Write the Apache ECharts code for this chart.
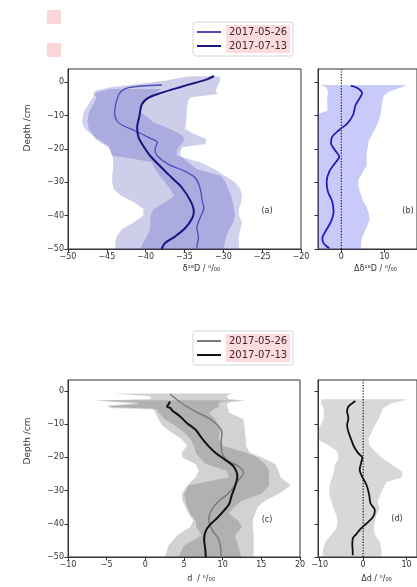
<!DOCTYPE html>
<html><head><meta charset="utf-8">
<script src="https://cdn.jsdelivr.net/npm/echarts@6/dist/echarts.min.js"></script>
<style>html,body{margin:0;padding:0;background:#fff}#c{width:417px;height:587px}</style>
</head><body><div id="c"></div>
<script>
// ---------- tick values ----------
const depthTicks = [-50, -40, -30, -20, -10, 0];
const xTicksA = [-50, -45, -40, -35, -30, -25, -20];
const xTicksB = [0, 10];
const xTicksC = [-10, -5, 0, 5, 10, 15, 20];
const xTicksD = [-10, 0, 10];
const zeroRef = [-50, 4];

// ---------- panel (a) delta18D profiles ----------
const aDepth0526 = [-0.8, -1.6, -3.1, -6.1, -9.1, -11.6, -13.1, -14.6, -16.6, -18.1, -20.1, -22.1, -24.7, -26.7, -28.7, -31.7, -35.7, -37.7, -40.7, -43.7, -46.7, -49.2, -50];
const aMean0526  = [-37.9, -42.2, -43.3, -43.8, -44.0, -43.7, -42.8, -41.3, -39.6, -38.5, -38.8, -38.5, -37.0, -34.9, -33.6, -33.0, -32.7, -32.5, -33.0, -33.4, -33.2, -33.4, -33.4];
const aDepth0713 = [1.9, 0.9, -0.1, -1.6, -3.1, -4.6, -6.6, -10.1, -13.6, -16.6, -19.1, -22.1, -25.7, -28.7, -31.7, -35.7, -38.7, -40.7, -43.7, -46.2, -48.2, -49.7, -50];
const aMean0713  = [-31.2, -32.1, -33.6, -35.8, -37.9, -39.6, -40.5, -40.8, -41.1, -40.9, -40.3, -39.4, -37.9, -36.6, -35.3, -34.2, -33.8, -34.0, -34.9, -36.2, -37.5, -37.9, -38.0];
// spread bands
const aBandDepth0526 = [-2, -3, -4.5, -6, -9, -12, -14, -16, -17.5, -19, -20.5, -22, -23, -24, -26, -28, -30, -32, -34, -36, -38, -40, -42, -44, -46, -48, -50];
const aBandLow0526   = [-44.5, -46.3, -46.8, -47.2, -48, -48.2, -47.8, -46.8, -45.8, -44.8, -44.5, -44.3, -41.5, -39.2, -38.8, -38.2, -37.5, -36.9, -36.3, -37.5, -39, -39.4, -39.4, -39.4, -39.8, -40.3, -40.7];
const aBandHigh0526  = [-38, -38.5, -39.3, -40.2, -40.6, -39, -36.8, -35.2, -35, -35.6, -36, -36, -34.5, -33, -31.2, -29.8, -28.5, -27.8, -27.6, -27.7, -28, -28, -27.6, -27.8, -28, -28, -28];
const aBandDepth0713 = [1.8, 0.5, -0.5, -1.5, -2.5, -3.5, -4.5, -6, -9, -12, -14, -15.5, -17, -18.5, -19.5, -21, -22, -23, -24, -26, -28, -30, -32, -34, -36, -38, -40, -42, -44, -46, -48, -50];
const aBandLow0713   = [-34.5, -37.5, -41, -44.5, -46.5, -46.8, -46.3, -46.6, -47.3, -47.5, -47.3, -46.8, -46.5, -45.5, -44.8, -44.5, -44.3, -44.2, -44.2, -44.2, -44.3, -44.3, -44.1, -43.2, -41.5, -40.3, -40.3, -41.5, -43, -43.7, -43.9, -43.9];
const aBandHigh0713  = [-30.5, -30.4, -30.6, -30.8, -31, -30.7, -34.2, -34.6, -34.7, -34.8, -34.9, -33.8, -32.2, -32.3, -35.3, -35.6, -35.5, -35, -34.5, -33.5, -30.3, -29.7, -29.4, -29, -28.8, -28.6, -28.5, -28.7, -29.2, -29.6, -29.8, -30];

// ---------- panel (b) difference of delta18D ----------
const bDepth = [-1, -1.8, -3.3, -4.8, -6.8, -9.8, -12.3, -14.3, -16.3, -18.3, -20.3, -22.3, -24.3, -26.8, -29.8, -32.8, -35.8, -38.8, -41.8, -44.8, -46.8, -48.3, -49.8];
const bDiff  = [2.2, 3.8, 4.8, 4.2, 3.3, 2.7, 1.4, -0.5, -2.1, -2.4, -1.5, -0.5, -1.5, -2.8, -3.4, -3.1, -2.1, -1.8, -2.4, -3.7, -4.4, -4.1, -2.8];
const bBandDepth = [-0.8, -1.5, -2.8, -4, -6, -8.5, -10, -12, -14.3, -17.3, -20, -22.3, -24.8, -27.3, -29.3, -31.5, -33.3, -35.5, -37.3, -39.5, -41.3, -43, -45.3, -47.5, -50];
const bBandLow   = [-4.8, -3.5, -3.1, -3.2, -3.3, -3.2, -6.5, -9, -10, -10.5, -9, -8, -9, -10.5, -11, -10.5, -9.5, -9, -9.5, -10.5, -11, -12, -12.5, -12, -11];
const bBandHigh  = [15, 14, 11, 9.8, 9.4, 9.2, 9.0, 8.5, 7.7, 6.4, 6.0, 5.8, 5.9, 4.8, 3.9, 4.0, 4.4, 5.0, 5.8, 6.4, 6.5, 6.0, 5.2, 4.6, 4.5];

// ---------- panel (c) deuterium excess profiles ----------
const cDepth0526 = [-0.9, -3.7, -6.2, -8.2, -10.7, -12.7, -15.7, -19.2, -21.2, -22.7, -24.7, -26.7, -30.7, -33.2, -35.7, -38.7, -41.7, -44.7, -49.2, -50];
const cMean0526  = [3.2, 4.7, 6.5, 8.2, 9.5, 9.9, 9.8, 10.0, 10.8, 12.1, 12.7, 12.1, 10.8, 9.5, 8.6, 8.2, 8.6, 9.5, 9.8, 9.8];
const cDepth0713 = [-3.2, -4.0, -4.7, -5.2, -5.7, -7.7, -9.7, -11.7, -14.2, -16.7, -18.7, -20.7, -22.7, -25.7, -28.7, -31.2, -34.2, -36.7, -38.7, -40.2, -42.2, -44.7, -46.7, -49.2, -50];
const cMean0713  = [3.2, 3.0, 2.8, 3.3, 3.4, 4.5, 5.4, 6.5, 7.3, 8.2, 9.1, 10.3, 11.4, 11.9, 11.6, 11.2, 10.8, 9.9, 9.1, 8.4, 7.8, 7.6, 7.7, 7.8, 7.8];
const cBandDepth0526 = [-0.8, -1.6, -2.4, -2.9, -3.4, -4.0, -4.6, -5.1, -5.6, -6.5, -8.5, -10.5, -12.5, -14.5, -16.5, -18.5, -20, -22, -24, -26, -28.5, -31, -33, -35, -37, -39, -41, -43.5, -46.5, -50];
const cBandLow0526   = [-4.1, 0.5, 0.8, -6.0, -1.0, -1.0, -4.5, -4.5, 1.5, 1.7, 2.5, 3.9, 5.0, 5.8, 6.3, 6.5, 7.0, 7.8, 10.5, 10.8, 5.6, 5.0, 5.2, 5.4, 5.8, 6.5, 6.6, 7.3, 5.0, 4.3];
const cBandHigh0526  = [11.2, 10.5, 10.8, 12.9, 11, 10.5, 10.6, 10.6, 10.8, 10.8, 12.7, 12.8, 12.9, 13.0, 13.0, 13.5, 15.1, 16.8, 17.2, 17.5, 18.8, 17.2, 15.5, 14.5, 14.2, 13.9, 13.9, 14.0, 14.0, 14.0];
const cBandDepth0713 = [-2.8, -3.2, -3.8, -4.4, -4.8, -5.3, -6.5, -8.5, -10.5, -12.5, -14.5, -16.5, -18.5, -20, -22, -24, -26, -28.5, -31, -33, -35, -37, -39, -41, -43.5, -46.5, -50];
const cBandLow0713   = [-6.5, -5, -1.5, -4.8, -5.0, 1.0, 1.3, 1.7, 2.2, 3.4, 4.7, 5.4, 4.7, 4.8, 6.5, 6.9, 6.5, 5.4, 4.7, 4.8, 5.2, 5.6, 6.2, 5.8, 4.1, 3.0, 2.5];
const cBandHigh0713  = [12.5, 10, 9.5, 9.5, 9.5, 9.0, 8.2, 9.0, 9.5, 9.6, 9.5, 10.0, 13.0, 14.5, 15.5, 16.0, 16.0, 16.0, 15.0, 12.5, 11.5, 10.8, 12.0, 12.5, 11.6, 12.0, 12.4];

// ---------- panel (d) difference of d-excess ----------
const dDepth = [-3, -3.8, -4.7, -6.2, -8.2, -10.3, -12.3, -14.8, -16.8, -18.8, -20.1, -21.8, -23.8, -25.9, -28.4, -31.4, -33.9, -35.9, -37.9, -39.9, -41.4, -43, -44.5, -46.5, -48.5, -49.5];
const dDiff  = [-1.8, -2.6, -3.4, -3.7, -3.4, -3.7, -3.4, -2.7, -2.1, -1.1, -0.2, -0.5, -0.8, -0.2, 0.8, 1.4, 1.7, 2.7, 2.3, 0.8, -0.5, -1.5, -2.4, -2.5, -2.4, -2.4];
const dBandDepth = [-2.5, -3.0, -3.7, -5.2, -8.2, -10.3, -12.3, -14.3, -16.3, -18.3, -20.3, -22.3, -24.3, -26, -27.4, -29.4, -31.4, -33.4, -35.4, -37.4, -39.4, -41.4, -43.5, -45.5, -47.5, -50];
const dBandLow   = [-9.6, -9.7, -9.7, -9.1, -9.1, -9.8, -11, -11, -8.1, -5.9, -5.6, -6.5, -6.8, -7.1, -7.5, -7.8, -7.8, -7.3, -6.8, -6.2, -5.9, -6.2, -7.5, -8.7, -9.2, -9.4];
const dBandHigh  = [10, 9, 6.5, 4.6, 3.6, 2.7, 2.0, 1.2, 1.4, 2.8, 4.5, 6.7, 9.0, 9.0, 5.4, 4.6, 3.9, 3.3, 3.8, 3.0, 2.7, 2.4, 2.8, 3.9, 4.2, 4.2];

// ---------- helpers ----------
const FONT = 'DejaVu Sans';
const TXT = '#333';
const fmt = v => (v < 0 ? '\u2212' + Math.abs(v) : String(v));

function xAxisCfg(gi, min, max, ticks, name, gap, shift) {
  return {
    gridIndex: gi, type: 'value', min: min, max: max,
    axisLine: { onZero: false, lineStyle: { color: TXT, width: 1 } },
    axisTick: { customValues: ticks, length: 3.5, lineStyle: { color: TXT } },
    axisLabel: { customValues: ticks, formatter: fmt, fontSize: 8, color: TXT, margin: 4, fontFamily: FONT },
    splitLine: { show: false },
    name: name, nameLocation: 'middle', nameGap: gap,
    nameTextStyle: { fontSize: 8, color: TXT, fontFamily: FONT, padding: [0, 0, 0, shift] }
  };
}
function yAxisCfg(gi, max, showLabels) {
  return {
    gridIndex: gi, type: 'value', min: -50, max: max,
    axisLine: { onZero: false, lineStyle: { color: TXT, width: 1 } },
    axisTick: { customValues: depthTicks, length: 3.5, lineStyle: { color: TXT } },
    axisLabel: { show: showLabels, customValues: depthTicks, formatter: fmt, fontSize: 8, color: TXT, margin: 4, fontFamily: FONT },
    splitLine: { show: false }
  };
}
function band(name, idx, depth, low, high, fill) {
  return {
    type: 'custom', name: name, xAxisIndex: idx, yAxisIndex: idx, coordinateSystem: 'cartesian2d',
    data: [[low[0], depth[0]]], clip: true, silent: true, z: 1,
    renderItem: function (params, api) {
      const pts = [];
      for (let i = 0; i < depth.length; i++) pts.push(api.coord([high[i], depth[i]]));
      for (let i = depth.length - 1; i >= 0; i--) pts.push(api.coord([low[i], depth[i]]));
      const cs = params.coordSys;
      return {
        type: 'polygon', shape: { points: pts }, style: { fill: fill },
        clipPath: { type: 'rect', shape: { x: cs.x, y: cs.y, width: cs.width, height: cs.height } }
      };
    }
  };
}
function line(name, idx, depth, vals, color, width) {
  return {
    type: 'line', name: name, xAxisIndex: idx, yAxisIndex: idx,
    data: vals.map((v, i) => [v, depth[i]]),
    symbol: 'none', showSymbol: false, smooth: 0.3, clip: true, z: 3,
    color: color, itemStyle: { color: color }, lineStyle: { color: color, width: width }
  };
}
function zeroLine(idx) {
  return {
    type: 'line', name: 'zero' + idx, xAxisIndex: idx, yAxisIndex: idx,
    data: zeroRef.map(d => [0, d]), symbol: 'none', silent: true, z: 2,
    lineStyle: { color: '#111', width: 1.2, type: [1.2, 1.6] }
  };
}
function legendCfg(top, names) {
  return {
    data: names, top: top, left: 193, orient: 'vertical', icon: 'rect',
    itemWidth: 24, itemHeight: 2, itemGap: 0, itemTextGap: 5, selectedMode: false,
    padding: [3, 3, 3, 4], backgroundColor: '#fff', borderColor: '#d4d4d4', borderWidth: 1, borderRadius: 3,
    formatter: n => n.trim(),
    textStyle: { fontSize: 10, fontFamily: FONT, color: '#4a2232', backgroundColor: '#fcdcdc', padding: [2, 3], lineHeight: 10 }
  };
}

const option = {
  animation: false,
  textStyle: { fontFamily: FONT },
  grid: [
    { left: 68, top: 69, width: 233, height: 180, show: true, borderColor: TXT, borderWidth: 1 },
    { left: 318, top: 69, width: 120, height: 180, show: true, borderColor: TXT, borderWidth: 1 },
    { left: 68, top: 380, width: 232, height: 177, show: true, borderColor: TXT, borderWidth: 1 },
    { left: 318, top: 380, width: 120, height: 177, show: true, borderColor: TXT, borderWidth: 1 }
  ],
  xAxis: [
    xAxisCfg(0, -50, -20, xTicksA, 'δ¹⁸D / ⁰/₀₀', 16, 34),
    xAxisCfg(1, -5.4, 17.5, xTicksB, 'Δδ¹⁸D / ⁰/₀₀', 16, 16),
    xAxisCfg(2, -10, 20, xTicksC, 'd  / ⁰/₀₀', 18, 34),
    xAxisCfg(3, -10.4, 12.4, xTicksD, 'Δd / ⁰/₀₀', 18, 18)
  ],
  yAxis: [yAxisCfg(0, 4, true), yAxisCfg(1, 4, false), yAxisCfg(2, 3.3, true), yAxisCfg(3, 3.3, false)],
  legend: [
    legendCfg(22, ['2017-05-26', '2017-07-13']),
    legendCfg(331, ['2017-05-26 ', '2017-07-13 '])
  ],
  series: [
    band('band a 05-26', 0, aBandDepth0526, aBandLow0526, aBandHigh0526, 'rgba(70,70,190,0.25)'),
    band('band a 07-13', 0, aBandDepth0713, aBandLow0713, aBandHigh0713, 'rgba(60,60,175,0.25)'),
    line('2017-05-26', 0, aDepth0526, aMean0526, '#4b4bbb', 1.3),
    line('2017-07-13', 0, aDepth0713, aMean0713, '#16167e', 2),

    band('band b', 1, bBandDepth, bBandLow, bBandHigh, 'rgba(90,90,240,0.32)'),
    zeroLine(1),
    line('diff b', 1, bDepth, bDiff, '#1e1ec0', 1.8),

    band('band c 05-26', 2, cBandDepth0526, cBandLow0526, cBandHigh0526, 'rgba(90,90,90,0.27)'),
    band('band c 07-13', 2, cBandDepth0713, cBandLow0713, cBandHigh0713, 'rgba(90,90,90,0.27)'),
    line('2017-05-26 ', 2, cDepth0526, cMean0526, '#7a7a7a', 1.5),
    line('2017-07-13 ', 2, cDepth0713, cMean0713, '#111111', 2),

    band('band d', 3, dBandDepth, dBandLow, dBandHigh, 'rgba(100,100,100,0.25)'),
    zeroLine(3),
    line('diff d', 3, dDepth, dDiff, '#111111', 1.8)
  ],
  graphic: [
    { type: 'rect', shape: { x: 47, y: 10, width: 14, height: 14 }, style: { fill: '#f9d7d9' } },
    { type: 'rect', shape: { x: 47, y: 43, width: 14, height: 14 }, style: { fill: '#f9d7d9' } },
    { type: 'text', x: 28, y: 128, rotation: Math.PI / 2, style: { text: 'Depth /cm', fontSize: 9, fill: TXT, align: 'center', verticalAlign: 'middle', fontFamily: FONT } },
    { type: 'text', x: 28, y: 441, rotation: Math.PI / 2, style: { text: 'Depth /cm', fontSize: 9, fill: TXT, align: 'center', verticalAlign: 'middle', fontFamily: FONT } },
    { type: 'text', x: 267, y: 211, style: { text: '(a)', fontSize: 8, fill: TXT, align: 'center', verticalAlign: 'middle', fontFamily: FONT } },
    { type: 'text', x: 408, y: 211, style: { text: '(b)', fontSize: 8, fill: TXT, align: 'center', verticalAlign: 'middle', fontFamily: FONT } },
    { type: 'text', x: 267, y: 520, style: { text: '(c)', fontSize: 8, fill: TXT, align: 'center', verticalAlign: 'middle', fontFamily: FONT } },
    { type: 'text', x: 397, y: 519, style: { text: '(d)', fontSize: 8, fill: TXT, align: 'center', verticalAlign: 'middle', fontFamily: FONT } }
  ]
};
const chart = echarts.init(document.getElementById('c'), null, { renderer: 'canvas' });
chart.setOption(option);
</script></body></html>
